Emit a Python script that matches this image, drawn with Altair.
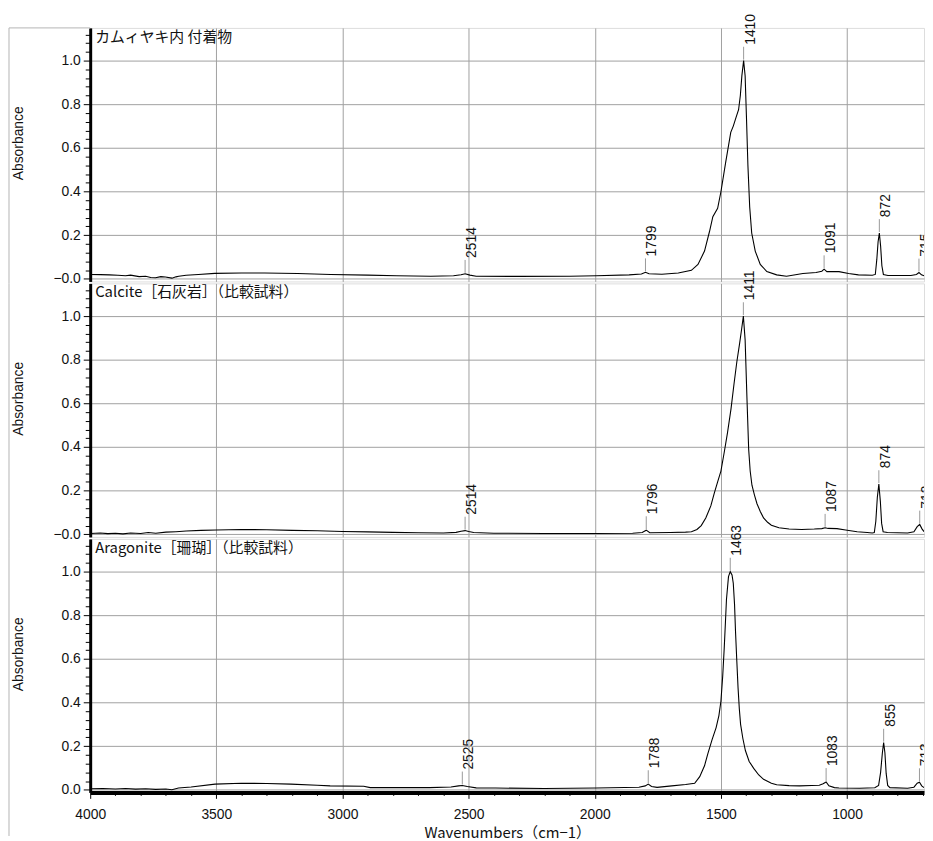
import altair as alt
import pandas as pd

# ---------------- data ----------------
kam_wn = [4000, 3960, 3924, 3890, 3860, 3840, 3806, 3780, 3760, 3741, 3720, 3702, 3676, 3660, 3649,
          3620, 3571, 3506, 3400, 3309, 3178, 3047, 2900, 2785, 2650, 2560, 2530, 2514, 2495, 2470,
          2300, 2100, 1994, 1864, 1815, 1799, 1785, 1734, 1669, 1617, 1591, 1565, 1545, 1532, 1513,
          1500, 1481, 1461, 1451, 1440, 1430, 1423, 1417, 1410, 1404, 1399, 1393, 1386, 1378, 1364,
          1344, 1318, 1279, 1240, 1175, 1123, 1100, 1091, 1080, 1032, 994, 955, 900, 888, 882,
          877, 872, 867, 862, 856, 838, 747, 725, 715, 705, 695]
kam_abs = [0.020, 0.019, 0.018, 0.016, 0.014, 0.017, 0.010, 0.012, 0.006, 0.005, 0.010, 0.008, 0.003, 0.009, 0.012,
           0.016, 0.020, 0.025, 0.027, 0.027, 0.024, 0.020, 0.017, 0.014, 0.012, 0.014, 0.019, 0.023, 0.017, 0.012,
           0.011, 0.012, 0.014, 0.018, 0.022, 0.030, 0.023, 0.021, 0.027, 0.039, 0.066, 0.127, 0.218, 0.285, 0.323,
           0.399, 0.535, 0.671, 0.700, 0.740, 0.775, 0.840, 0.930, 1.000, 0.930, 0.750, 0.520, 0.330, 0.210, 0.127,
           0.066, 0.033, 0.018, 0.012, 0.024, 0.029, 0.035, 0.044, 0.033, 0.033, 0.024, 0.018, 0.016, 0.020, 0.090,
           0.170, 0.210, 0.150, 0.060, 0.020, 0.015, 0.015, 0.020, 0.029, 0.018, 0.014]

cal_wn = [4000, 3960, 3930, 3900, 3870, 3840, 3800, 3770, 3740, 3700, 3660, 3620, 3560, 3500, 3400,
          3300, 3200, 3100, 3000, 2900, 2800, 2700, 2600, 2550, 2530, 2514, 2500, 2480, 2400, 2200,
          2000, 1850, 1812, 1796, 1782, 1700, 1640, 1617, 1595, 1578, 1560, 1540, 1526, 1513, 1500,
          1487, 1474, 1460, 1448, 1437, 1426, 1418, 1411, 1404, 1397, 1390, 1384, 1377, 1367, 1357,
          1344, 1331, 1315, 1300, 1270, 1230, 1180, 1130, 1100, 1087, 1075, 1040, 1006, 960, 920,
          900, 892, 886, 880, 874, 868, 863, 857, 840, 760, 735, 722, 712, 703, 695]
cal_abs = [0.004, 0.006, 0.003, 0.005, 0.002, 0.006, 0.004, 0.008, 0.005, 0.010, 0.012, 0.015, 0.018, 0.020, 0.022,
           0.021, 0.018, 0.016, 0.013, 0.011, 0.009, 0.007, 0.006, 0.009, 0.014, 0.017, 0.013, 0.008, 0.005, 0.004,
           0.004, 0.005, 0.008, 0.019, 0.007, 0.008, 0.010, 0.012, 0.022, 0.040, 0.075, 0.130, 0.190, 0.240, 0.290,
           0.375, 0.465, 0.575, 0.690, 0.790, 0.874, 0.940, 1.000, 0.890, 0.630, 0.390, 0.290, 0.225, 0.180, 0.140,
           0.105, 0.075, 0.055, 0.042, 0.030, 0.024, 0.022, 0.024, 0.026, 0.030, 0.027, 0.026, 0.020, 0.012, 0.008,
           0.006, 0.008, 0.060, 0.170, 0.230, 0.150, 0.050, 0.012, 0.008, 0.006, 0.012, 0.035, 0.045, 0.025, 0.012]

ara_wn = [4000, 3950, 3900, 3860, 3820, 3780, 3740, 3700, 3676, 3650, 3600, 3505, 3401, 3300, 3205,
          3100, 3049, 2916, 2890, 2750, 2655, 2570, 2540, 2525, 2505, 2470, 2394, 2200, 1994, 1825,
          1800, 1788, 1775, 1753, 1695, 1640, 1604, 1584, 1565, 1552, 1535, 1519, 1508, 1500, 1493,
          1487, 1482, 1478, 1470, 1463, 1456, 1451, 1446, 1442, 1437, 1432, 1427, 1422, 1413, 1403,
          1388, 1370, 1350, 1331, 1300, 1279, 1230, 1188, 1140, 1110, 1095, 1083, 1072, 1050, 1032,
          950, 890, 875, 867, 860, 855, 850, 845, 839, 830, 760, 735, 722, 713, 704, 695]
ara_abs = [0.005, 0.006, 0.004, 0.006, 0.003, 0.005, 0.002, 0.004, 0.000, 0.008, 0.013, 0.026, 0.030, 0.029, 0.026,
           0.021, 0.018, 0.016, 0.010, 0.010, 0.010, 0.013, 0.018, 0.020, 0.015, 0.009, 0.008, 0.006, 0.008, 0.012,
           0.018, 0.026, 0.015, 0.011, 0.018, 0.024, 0.030, 0.060, 0.110, 0.165, 0.230, 0.285, 0.340, 0.406, 0.520,
           0.647, 0.770, 0.872, 0.977, 1.000, 0.985, 0.947, 0.850, 0.722, 0.590, 0.466, 0.370, 0.300, 0.235, 0.180,
           0.130, 0.098, 0.068, 0.048, 0.030, 0.023, 0.019, 0.018, 0.020, 0.021, 0.028, 0.036, 0.018, 0.010, 0.008,
           0.007, 0.009, 0.020, 0.080, 0.170, 0.216, 0.170, 0.075, 0.020, 0.010, 0.007, 0.012, 0.030, 0.035, 0.018, 0.010]

# peak labels
kam_pk_wn = [2514, 1799, 1410, 1091, 872]
kam_pk_abs = [0.023, 0.030, 1.000, 0.044, 0.210]
kam_pk_txt = ["2514", "1799", "1410", "1091", "872"]
cal_pk_wn = [2514, 1796, 1411, 1087, 874]
cal_pk_abs = [0.017, 0.019, 1.000, 0.030, 0.230]
cal_pk_txt = ["2514", "1796", "1411", "1087", "874"]
ara_pk_wn = [2525, 1788, 1463, 1083, 855]
ara_pk_abs = [0.020, 0.026, 1.000, 0.036, 0.216]
ara_pk_txt = ["2525", "1788", "1463", "1083", "855"]
# last (cut-off) peak labels at the right edge
kam_last = (715, 0.029, "715")
cal_last = (712, 0.045, "712")
ara_last = (713, 0.035, "713")

names = ["カムィヤキ内 付着物", "Calcite［石灰岩］（比較試料）", "Aragonite［珊瑚］（比較試料）"]

x_ticks = list(range(700, 4001, 100))
x_grid = [1000, 1500, 2000, 2500, 3000, 3500, 4000]
y_ticks = [round(k * 0.04, 2) for k in range(0, 29)]

# ---------------- styling ----------------
X_DOMAIN = [4000, 695]
Y_DOMAIN = [-0.012, 1.15]
W, H = 842, 256
GRID = "#a0a0a0"
FRAME = "#b4b4b4"
LAT = "Liberation Sans"
CJK = "Noto Sans CJK JP"
Y_MAJOR = "abs(datum.value*5 - round(datum.value*5)) < 0.001"
X_MAJOR = "datum.value % 500 == 0"


def panel(wn, ab, pk_wn, pk_abs, pk_txt, last, name, zero_label, bottom):
    df = pd.DataFrame({"wn": wn, "A": ab})
    pk = pd.DataFrame({"wn": pk_wn, "A": pk_abs, "t": pk_txt})
    lst = pd.DataFrame({"wn": [last[0]], "A": [last[1]], "t": [last[2]]})
    one = pd.DataFrame({"a": [0]})

    xscale = alt.Scale(domain=X_DOMAIN, nice=False, zero=False)
    yscale = alt.Scale(domain=Y_DOMAIN, nice=False, zero=False)
    if bottom:
        xaxis = alt.Axis(
            values=x_ticks, tickCount=500,
            labelExpr=f"{X_MAJOR} ? format(datum.value, 'd') : ''",
            labelOverlap=False, labelFlush=False, labelFont=LAT, labelFontSize=14,
            labelColor="#111", labelPadding=9,
            tickColor="black", tickSize={"condition": {"test": X_MAJOR, "value": 6}, "value": 3},
            domainColor="black", domainWidth=4,
            grid=True, gridColor=GRID,
            gridOpacity={"condition": {"test": X_MAJOR, "value": 1}, "value": 0},
            title="Wavenumbers（cm−1）", titleFont=CJK, titleFontSize=15,
            titleFontWeight="normal", titleColor="#111", titlePadding=5)
    else:
        xaxis = alt.Axis(values=x_grid, tickCount=500, labels=False, ticks=False, domain=False,
                         title=None, grid=True, gridColor=GRID)
    yaxis = alt.Axis(
        values=y_ticks, tickCount=500,
        labelExpr=f"{Y_MAJOR} ? (datum.value == 0 ? '{zero_label}' : format(datum.value, '.1f')) : ''",
        labelOverlap=False, labelFont=LAT, labelFontSize=14, labelColor="#111", labelPadding=3,
        tickColor="black", tickSize={"condition": {"test": Y_MAJOR, "value": 7}, "value": 5},
        domainColor="black", domainWidth=3,
        grid=True, gridColor=GRID,
        gridOpacity={"condition": {"test": Y_MAJOR, "value": 1}, "value": 0},
        title="Absorbance", titleFont=LAT, titleFontSize=14, titleFontWeight="normal",
        titleColor="#111", titleX=-72, titleY=116, titleBaseline="middle", titleAngle=270)

    line = alt.Chart(df).mark_line(color="black", strokeWidth=1.1, clip=True).encode(
        x=alt.X("wn:Q", scale=xscale, axis=xaxis),
        y=alt.Y("A:Q", scale=yscale, axis=yaxis),
    )
    ticks = alt.Chart(pk).mark_rule(color="#999999", strokeWidth=1, yOffset=-1, y2Offset=-14).encode(
        x="wn:Q", y="A:Q", y2="A")
    labels = alt.Chart(pk).mark_text(angle=270, align="left", baseline="middle", dx=16, dy=7,
                                     font=LAT, fontSize=14, color="#111").encode(
        x="wn:Q", y="A:Q", text="t:N")
    last_tick = alt.Chart(lst).mark_rule(color="#999999", strokeWidth=1, yOffset=-1, y2Offset=-14).encode(
        x="wn:Q", y="A:Q", y2="A")
    last_lab = alt.Chart(lst).mark_text(angle=270, align="left", baseline="middle", dx=16, dy=7,
                                        font=LAT, fontSize=14, color="#111", clip=True).encode(
        x="wn:Q", y="A:Q", text="t:N")
    name_t = alt.Chart(pd.DataFrame({"t": [name]})).mark_text(
        align="left", baseline="top", font=CJK, fontSize=15, color="#111").encode(
        x=alt.value(5), y=alt.value(2), text="t:N")
    vframe = alt.Chart(one).mark_rule(color=FRAME, strokeWidth=1).encode(
        x=alt.value(-82), y=alt.value(0), y2=alt.value(H + 2 if not bottom else H + 44))
    layers = [line, ticks, labels, last_tick, last_lab, name_t, vframe]
    if name == names[0]:
        hframe = alt.Chart(one).mark_rule(color=FRAME, strokeWidth=1).encode(
            x=alt.value(-82), x2=alt.value(0), y=alt.value(0))
        layers.append(hframe)
    return alt.layer(*layers).properties(width=W, height=H)


p1 = panel(kam_wn, kam_abs, kam_pk_wn, kam_pk_abs, kam_pk_txt, kam_last, names[0], "−0.0", False)
p2 = panel(cal_wn, cal_abs, cal_pk_wn, cal_pk_abs, cal_pk_txt, cal_last, names[1], "−0.0", False)
p3 = panel(ara_wn, ara_abs, ara_pk_wn, ara_pk_abs, ara_pk_txt, ara_last, names[2], "0.0", True)

chart = alt.vconcat(p1, p2, p3, spacing=2, bounds="flush").properties(
    padding={"top": 1, "left": 0, "right": 0, "bottom": 0}
).configure_view(stroke="#8c8c8c", strokeWidth=1).configure(background="white")

chart.save("out.html", embed_options={"renderer": "svg", "actions": False})
